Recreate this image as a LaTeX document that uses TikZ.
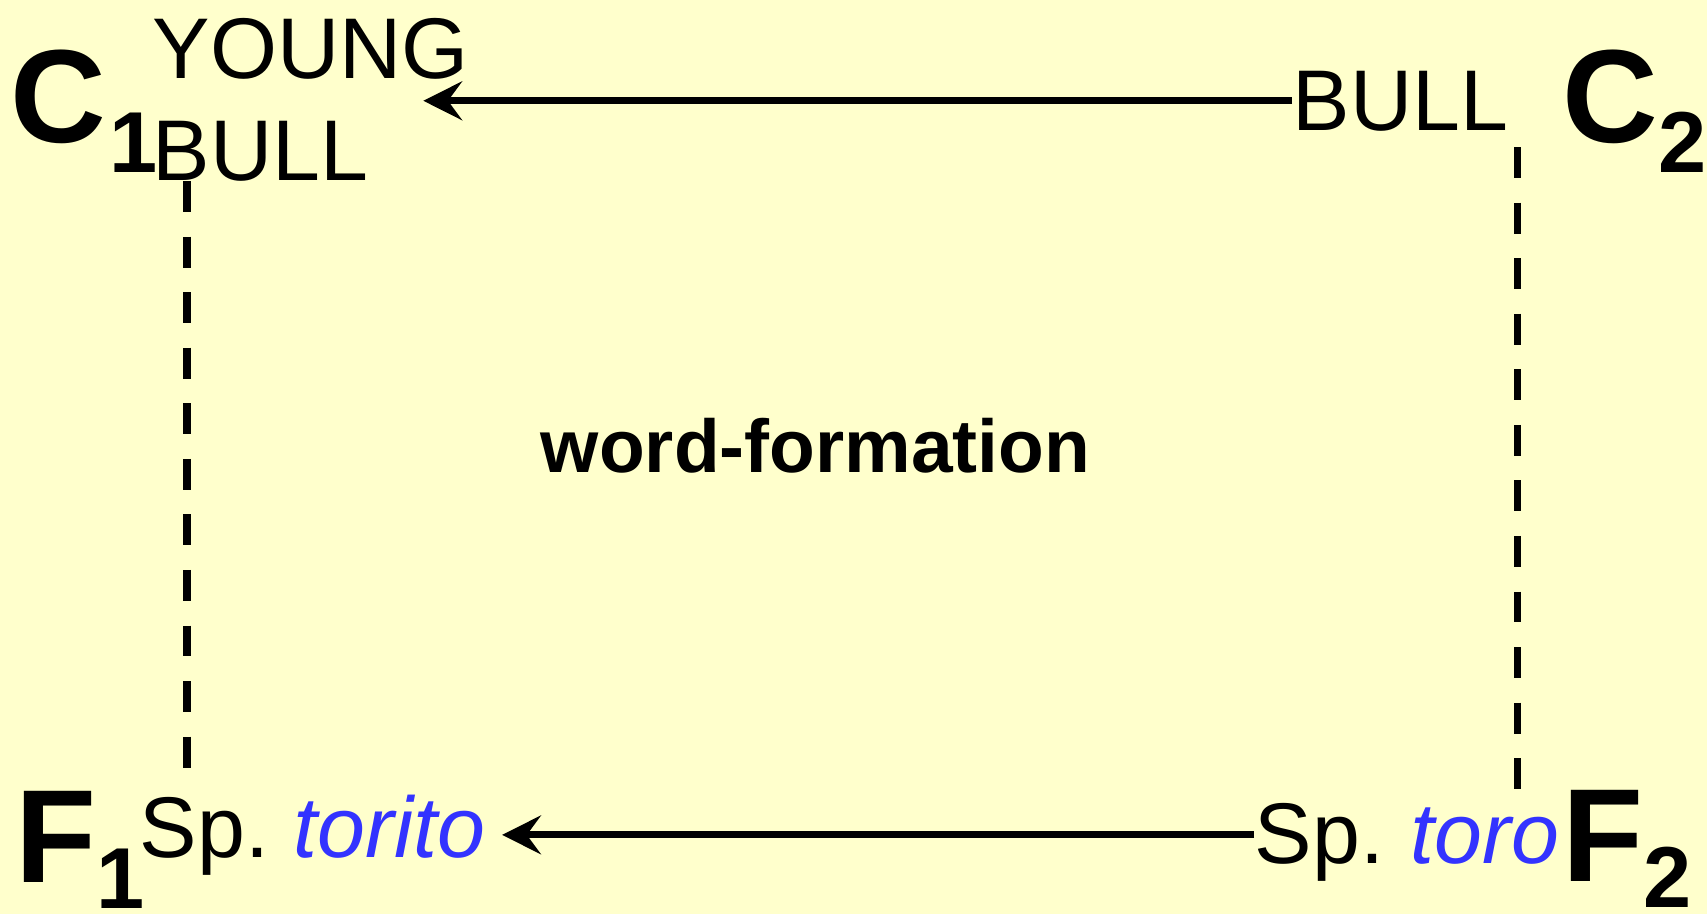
\documentclass[tikz,border=0pt]{standalone}
\usepackage{fontspec}
\setmainfont{Liberation Sans}
\usepackage{xcolor}
\usetikzlibrary{arrows.meta, calc}
\definecolor{paper}{HTML}{FFFFCC}
\definecolor{spblue}{HTML}{3333FF}
\newcommand{\subnum}[2][8.6pt]{\raisebox{-#1}{\fontsize{24.6}{29}\selectfont #2}}

\begin{document}
\begin{tikzpicture}[
  x=0.01cm, y=-0.01cm,
  corner/.style={inner sep=0pt, anchor=base west, font=\fontsize{37.7}{40}\selectfont\bfseries},
  lbl/.style={inner sep=0pt, anchor=base west, font=\fontsize{24.5}{29}\selectfont},
  arr/.style={-{Stealth[length=11pt, width=11pt, inset=4pt]}, line width=2pt},
  link/.style={line width=2pt, dash pattern=on 8.8pt off 7pt},
]
  \fill[paper] (0,0) rectangle (1707,914);
  \useasboundingbox (0,0) rectangle (1707,914);

  \node[corner] (C1) at (9.5,142) {C\hspace{1pt}\subnum{1}};
  \node[corner] (C2) at (1562,142) {C\subnum{2}};
  \node[corner] (F1) at (15,882)  {F\subnum[7.4pt]{1}};
  \node[corner] (F2) at (1562,881) {F\subnum[7.4pt]{2}};

  \node[lbl] (young)  at (152,78)   {YOUNG};
  \node[lbl] (bullL)  at (152,180)  {BULL};
  \node[lbl] (bullR)  at (1292,130) {BULL};
  \node[lbl] (torito) at (139,857)  {Sp.\hspace{-2pt} \textit{\color{spblue}torito}};
  \node[lbl] (toro)   at (1254,863) {Sp.\hspace{-1.5pt} \textit{\color{spblue}toro}};

  \node[inner sep=0pt, anchor=base, font=\fontsize{21.3}{24}\selectfont\bfseries]
        (wf) at (815.5,472) {word-formation};

  \coordinate (leftTop) at (187,181);
  \coordinate (leftBot) at (187,772);
  \coordinate (rightTop) at (1517,147);
  \coordinate (rightBot) at (1517,789);

  \draw[arr] (bullR.west) -- ($(young.east |- bullR.west)+(-46,0)$);
  \draw[arr] ($(toro.west)+(0,-7)$) -- ($(toro.west -| torito.east)+(16,-7)$);

  \draw[link] (leftTop) -- (leftBot);
  \draw[link] (rightTop) -- (rightBot);
\end{tikzpicture}
\end{document}
